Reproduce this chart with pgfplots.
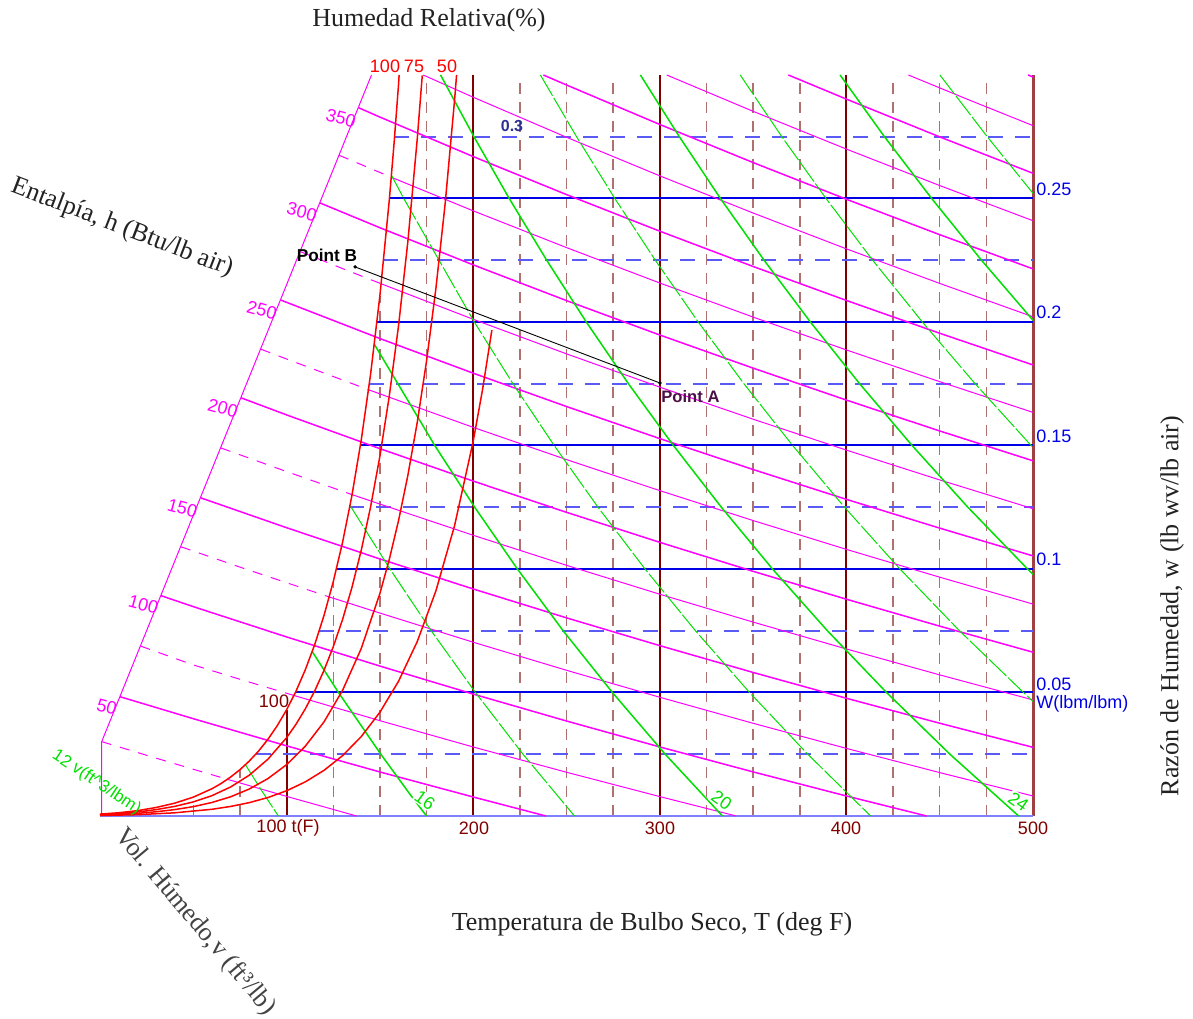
\documentclass[border=0pt]{standalone}
\usepackage{pgfplots}
\pgfplotsset{compat=1.18}
\usepackage{fontspec}
\setmainfont{Liberation Sans}
\newfontfamily\serif{Liberation Serif}
\definecolor{dred}{HTML}{800000}
\definecolor{rosy}{HTML}{B07070}
\definecolor{mag}{HTML}{FF00FF}
\definecolor{grn}{HTML}{00E000}
\definecolor{blu}{HTML}{0000E6}
\definecolor{lblu}{HTML}{5A5AF5}
\definecolor{botblu}{HTML}{8080FF}
\definecolor{navy}{HTML}{2E3192}
\definecolor{pta}{HTML}{4B0F45}
\definecolor{ttl}{HTML}{222222}
\tikzset{
  vd/.style={rosy, line width=0.75bp, dash pattern=on 5.5bp off 4bp},
  vs/.style={dred, line width=1bp},
  hs/.style={blu, line width=1bp},
  hd/.style={lblu, line width=0.8bp, dash pattern=on 7.5bp off 6bp},
  mthick/.style={mag, line width=0.75bp},
  mthin/.style={mag, line width=0.5bp},
  mdash/.style={mag, line width=0.5bp, dash pattern=on 5bp off 4.5bp},
  gthick/.style={grn, line width=0.75bp},
  gthin/.style={grn, line width=0.5bp, dash pattern=on 12bp off 1.2bp},
  rh/.style={red, line width=0.75bp},
}
\begin{document}
\begin{tikzpicture}
\path[use as bounding box] (-50bp,-101.5bp) rectangle (546.5bp,408bp);
\begin{axis}[at={(0,0)},anchor=south west,scale only axis,width=466.5bp,height=370.5bp,
  xmin=0,xmax=500,ymin=0,ymax=0.3,axis lines=none,ticks=none,clip=false]
% ---- dry bulb verticals
\addplot[vd] coordinates {(25,0)(25,0.00272)};
\addplot[vd] coordinates {(50,0)(50,0.00763)};
\addplot[vd] coordinates {(75,0)(75,0.01875)};
\addplot[vd] coordinates {(125,0)(125,0.09483)};
\addplot[vd] coordinates {(150,0)(150,0.21069)};
\addplot[vd] coordinates {(175,0)(175,0.3)};
\addplot[vd] coordinates {(225,0)(225,0.3)};
\addplot[vd] coordinates {(250,0)(250,0.3)};
\addplot[vd] coordinates {(275,0)(275,0.3)};
\addplot[vd] coordinates {(325,0)(325,0.3)};
\addplot[vd] coordinates {(350,0)(350,0.3)};
\addplot[vd] coordinates {(375,0)(375,0.3)};
\addplot[vd] coordinates {(425,0)(425,0.3)};
\addplot[vd] coordinates {(450,0)(450,0.3)};
\addplot[vd] coordinates {(475,0)(475,0.3)};
\addplot[vs] coordinates {(100,0)(100,0.043)};
\addplot[vs] coordinates {(200,0)(200,0.3)};
\addplot[vs] coordinates {(300,0)(300,0.3)};
\addplot[vs] coordinates {(400,0)(400,0.3)};
\addplot[color=dred!75, line width=1.5bp] coordinates {(500,0)(500,0.3)};
% ---- humidity ratio horizontals
\addplot[hd] coordinates {(83.4,0.025)(500,0.025)};
\addplot[hd] coordinates {(117.5,0.075)(500,0.075)};
\addplot[hd] coordinates {(133.7,0.125)(500,0.125)};
\addplot[hd] coordinates {(144.3,0.175)(500,0.175)};
\addplot[hd] coordinates {(151.9,0.225)(500,0.225)};
\addplot[hd] coordinates {(157.7,0.275)(500,0.275)};
\addplot[hs] coordinates {(104.7,0.05)(500,0.05)};
\addplot[hs] coordinates {(126.6,0.1)(500,0.1)};
\addplot[hs] coordinates {(139.5,0.15)(500,0.15)};
\addplot[hs] coordinates {(148.3,0.2)(500,0.2)};
\addplot[hs] coordinates {(155.1,0.25)(500,0.25)};
\addplot[botblu, line width=1bp] coordinates {(0,0)(500,0)};
% ---- enthalpy scale
\addplot[mthin] coordinates {(0.9,0)(0.9,0.0301)(138.4,0.2868)(145.5,0.3)};
% ---- enthalpy lines
\addplot[mdash] coordinates {(0.9,0.0301)(30,0.02343)(50,0.01892)(68.2,0.01487)};
\addplot[mthin] coordinates {(68.2,0.01487)(100,0.00794)(137.5,0)};
\addplot[mthick] coordinates {(10.7,0.0483)(50,0.03939)(100,0.0284)(150,0.01783)(200,0.00769)(239,0)};
\addplot[mdash] coordinates {(21.7,0.0688)(50,0.06116)(75,0.05535)(103.9,0.0488)};
\addplot[mthin] coordinates {(103.9,0.0488)(150,0.03859)(200,0.02794)(250,0.01771)(300,0.00786)(341,0)};
\addplot[mthick] coordinates {(32.7,0.0892)(50,0.08476)(100,0.07249)(150,0.0607)(200,0.04936)(250,0.03846)(300,0.02796)(350,0.01785)(400,0.0081)(443,0)};
\addplot[mdash] coordinates {(43.35,0.109)(75,0.10076)(100,0.09444)(122.8,0.0887)};
\addplot[mthin] coordinates {(122.8,0.0887)(150,0.08216)(200,0.07035)(250,0.05899)(300,0.04807)(350,0.03753)(400,0.02737)(450,0.01757)(500,0.0081)};
\addplot[mthick] coordinates {(54,0.1288)(100,0.11671)(150,0.10407)(200,0.09191)(250,0.08022)(300,0.06897)(350,0.05811)(400,0.04766)(450,0.03756)(500,0.0278)};
\addplot[mdash] coordinates {(64.8,0.149)(100,0.13944)(135.1,0.1301)};
\addplot[mthin] coordinates {(135.1,0.1301)(150,0.1263)(200,0.11365)(250,0.10149)(300,0.08978)(350,0.0785)(400,0.06762)(450,0.05713)(500,0.047)};
\addplot[mthick] coordinates {(75.6,0.1693)(100,0.16238)(150,0.14872)(200,0.13559)(250,0.12295)(300,0.11079)(350,0.09906)(400,0.08776)(450,0.07686)(500,0.0663)};
\addplot[mdash] coordinates {(86.2,0.189)(100,0.18501)(143.8,0.1726)};
\addplot[mthin] coordinates {(143.8,0.1726)(150,0.1709)(200,0.15734)(250,0.14429)(300,0.13173)(350,0.11962)(400,0.10794)(450,0.09668)(500,0.0858)};
\addplot[mthick] coordinates {(96.8,0.2089)(150,0.1933)(200,0.17927)(250,0.16578)(300,0.15279)(350,0.14027)(400,0.12819)(450,0.11654)(500,0.1053)};
\addplot[mdash] coordinates {(107.35,0.2285)(130,0.22162)(150.6,0.2155)};
\addplot[mthin] coordinates {(150.6,0.2155)(200,0.2011)(250,0.1871)(300,0.17363)(350,0.16065)(400,0.14813)(450,0.13606)(500,0.1244)};
\addplot[mthick] coordinates {(117.9,0.2482)(150,0.23816)(200,0.22313)(250,0.20866)(300,0.19473)(350,0.18132)(400,0.16838)(450,0.15589)(500,0.1438)};
\addplot[mdash] coordinates {(128.15,0.2675)(156.1,0.2586)};
\addplot[mthin] coordinates {(156.1,0.2586)(200,0.245)(250,0.23012)(300,0.21579)(350,0.20199)(400,0.18868)(450,0.17584)(500,0.1634)};
\addplot[mthick] coordinates {(138.4,0.2868)(150,0.28296)(200,0.26697)(250,0.25158)(300,0.23676)(350,0.22248)(400,0.20872)(450,0.19544)(500,0.1826)};
\addplot[mthin] coordinates {(173.2,0.3)(200,0.291)(250,0.27479)(300,0.25917)(350,0.24412)(400,0.22961)(450,0.21562)(500,0.2021)};
\addplot[mthick] coordinates {(237.6,0.3)(250,0.29596)(300,0.27996)(350,0.26455)(400,0.24969)(450,0.23535)(500,0.2215)};
\addplot[mthin] coordinates {(303.7,0.3)(350,0.28529)(400,0.27)(450,0.25524)(500,0.241)};
\addplot[mthick] coordinates {(368.9,0.3)(400,0.29023)(450,0.27494)(500,0.2602)};
\addplot[mthin] coordinates {(433.2,0.3)(466,0.28981)(500,0.2795)};
\addplot[mthick] coordinates {(497.3,0.3)(500,0.2992)};
% ---- specific volume lines
\addplot[gthin] coordinates {(15.3,0.0016)(16.3,0)};
\addplot[gthin] coordinates {(78,0.0207)(86.6,0.0103)(95.6,0)};
\addplot[gthick] coordinates {(113.8,0.0665)(127.8,0.05)(150.5,0.025)(166.4,0.0085)(175,0)};
\addplot[gthin] coordinates {(134,0.1257)(155.4,0.1)(177.5,0.075)(201.2,0.05)(226.7,0.025)(254.3,0)};
\addplot[gthick] coordinates {(147,0.191)(179.4,0.15)(200.8,0.125)(223.7,0.1)(248.2,0.075)(274.6,0.05)(302.9,0.025)(333.6,0)};
\addplot[gthin] coordinates {(156.2,0.2594)(162.8,0.25)(200.6,0.2)(221.3,0.175)(243.4,0.15)(266.9,0.125)(292.1,0.1)(319.1,0.075)(348.1,0.05)(379.3,0.025)(413,0)};
\addplot[gthick] coordinates {(182.5,0.3)(200.4,0.275)(219.3,0.25)(239.4,0.225)(260.6,0.2)(283.2,0.175)(307.3,0.15)(333,0.125)(360.4,0.1)(389.8,0.075)(421.5,0.05)(455.5,0.025)(492.3,0)};
\addplot[gthin] coordinates {(236,0.3)(255.4,0.275)(275.9,0.25)(297.6,0.225)(320.6,0.2)(345.1,0.175)(371.2,0.15)(399,0.125)(428.7,0.1)(460.6,0.075)(494.9,0.05)(500,0.0464)};
\addplot[gthick] coordinates {(289.6,0.3)(310.5,0.275)(332.5,0.25)(355.9,0.225)(380.7,0.2)(407.1,0.175)(435.2,0.15)(465.1,0.125)(497.1,0.1)(500,0.0978)};
\addplot[gthin] coordinates {(343.1,0.3)(365.4,0.275)(389.1,0.25)(414.1,0.225)(440.7,0.2)(469,0.175)(499,0.15)(500,0.1492)};
\addplot[gthick] coordinates {(396.6,0.3)(420.4,0.275)(445.7,0.25)(472.4,0.225)(500,0.2007)};
\addplot[gthin] coordinates {(450.1,0.3)(475.5,0.275)(500,0.2521)};
% ---- relative humidity curves
\addplot[rh] coordinates {(0,0.00078)(10,0.00131)(20,0.00215)(30,0.00344)(40,0.00519)(50,0.00763)(60,0.01104)(65,0.01321)(70,0.01577)(75,0.01875)(80,0.02224)(85,0.02631)(90,0.03105)(95,0.03658)(100,0.0430)(105,0.05047)(110,0.05916)(115,0.06926)(120,0.08107)(125,0.09483)(130,0.11083)(135,0.12975)(140,0.15221)(145,0.17878)(150,0.21069)(155,0.2491)(157.5,0.27145)(160,0.29626)(160.3,0.3)};
\addplot[rh] coordinates {(0,0.00059)(10,0.00098)(20,0.0016)(30,0.00258)(40,0.00389)(50,0.00571)(60,0.00824)(70,0.01175)(80,0.01653)(90,0.0230)(100,0.0317)(105,0.0371)(110,0.04334)(115,0.05054)(120,0.05888)(125,0.06851)(130,0.07958)(135,0.09249)(140,0.10757)(145,0.1251)(150,0.14568)(155,0.16988)(160,0.19856)(165,0.2327)(170,0.2740)(172.7,0.2998)};
\addplot[rh] coordinates {(0,0.00039)(10,0.00065)(20,0.00107)(30,0.00171)(40,0.00259)(50,0.00379)(60,0.00547)(70,0.00778)(80,0.01092)(90,0.01515)(100,0.02078)(110,0.02824)(120,0.03805)(130,0.05088)(140,0.06781)(150,0.09009)(155,0.1038)(160,0.11964)(165,0.13797)(170,0.1593)(175,0.1842)(180,0.21351)(185,0.2481)(190,0.2897)(191.1,0.3)};
\addplot[rh] coordinates {(0,0.0002)(20,0.00053)(40,0.00129)(60,0.00272)(70,0.00387)(80,0.00541)(90,0.00748)(100,0.01022)(110,0.0138)(120,0.01846)(130,0.02444)(140,0.03215)(150,0.0420)(160,0.05457)(170,0.0706)(180,0.09112)(190,0.1175)(200,0.1517)(205,0.1726)(210,0.1967)};
% ---- process line
\addplot[black, line width=0.45bp, mark=*, mark size=0.6bp] coordinates {(136.7,0.2223)(300.1,0.1753)};
\end{axis}
% ---- texts
\begin{scope}[every node/.style={inner sep=0pt}]
\node[font={\serif\fontsize{13bp}{15bp}\selectfont}, text=ttl] at (164.5bp,398bp) {Humedad Relativa(\%)};
\node[font={\serif\fontsize{13bp}{15bp}\selectfont}, text=ttl] at (276bp,-54bp) {Temperatura de Bulbo Seco, T (deg F)};
\node[font={\serif\fontsize{13bp}{15bp}\selectfont}, text=ttl, rotate=90] at (536bp,105bp) {Razón de Humedad, w (lb wv/lb air)};
\node[font={\serif\fontsize{13bp}{15bp}\selectfont}, text=ttl, rotate=-21] at (11bp,294bp) {Entalpía, h (Btu/lb air)};
\node[font={\serif\fontsize{13bp}{15bp}\selectfont}, text=ttl!85, rotate=-50] at (47.5bp,-53bp) {Vol. Húmedo,v (ft³/lb)};
\begin{scope}[font={\fontsize{9bp}{10bp}\selectfont}]
\node[text=red] at (142.5bp,375bp) {100};
\node[text=red] at (157bp,375bp) {75};
\node[text=red] at (173.5bp,375bp) {50};
\node[text=blu, anchor=west] at (468bp,313.5bp) {0.25};
\node[text=blu, anchor=west] at (468bp,252bp) {0.2};
\node[text=blu, anchor=west] at (468bp,190bp) {0.15};
\node[text=blu, anchor=west] at (468bp,128.5bp) {0.1};
\node[text=blu, anchor=west] at (468bp,66bp) {0.05};
\node[text=blu, anchor=west] at (468bp,56bp) {W(lbm/lbm)};
\node[text=dred] at (94bp,-6bp) {100 t(F)};
\node[text=dred] at (187bp,-6bp) {200};
\node[text=dred] at (280bp,-6bp) {300};
\node[text=dred] at (373bp,-6bp) {400};
\node[text=dred] at (466.5bp,-6bp) {500};
\node[text=dred] at (87bp,57.5bp) {100};
\node[text=mag, rotate=-15] at (120.5bp,349bp) {350};
\node[text=mag, rotate=-15] at (100.9bp,302.1bp) {300};
\node[text=mag, rotate=-15] at (80.9bp,253bp) {250};
\node[text=mag, rotate=-15] at (61.4bp,204bp) {200};
\node[text=mag, rotate=-15] at (41.2bp,154bp) {150};
\node[text=mag, rotate=-15] at (21.7bp,105.7bp) {100};
\node[text=mag, rotate=-15] at (3.4bp,54.5bp) {50};
\node[text=grn, rotate=-35, fill=white, inner sep=0.6bp] at (162.5bp,8bp) {16};
\node[text=grn, rotate=-35, fill=white, inner sep=0.6bp] at (310.8bp,8bp) {20};
\node[text=grn, rotate=-35, fill=white, inner sep=0.6bp] at (459.2bp,7.2bp) {24};
\end{scope}
\node[text=grn, rotate=-33.5, font={\fontsize{8.5bp}{10bp}\selectfont}] at (-1.75bp,16.75bp) {12 v(ft\textasciicircum 3/lbm)};
\node[text=navy, font={\bfseries\fontsize{8bp}{9bp}\selectfont}] at (206bp,345bp) {0.3};
\node[text=black, font={\bfseries\fontsize{8.6bp}{9bp}\selectfont}] at (113.5bp,280.5bp) {Point B};
\node[text=pta, anchor=west, font={\bfseries\fontsize{8.3bp}{9bp}\selectfont}] at (280.5bp,209.5bp) {Point A};
\end{scope}
\end{tikzpicture}
\end{document}
